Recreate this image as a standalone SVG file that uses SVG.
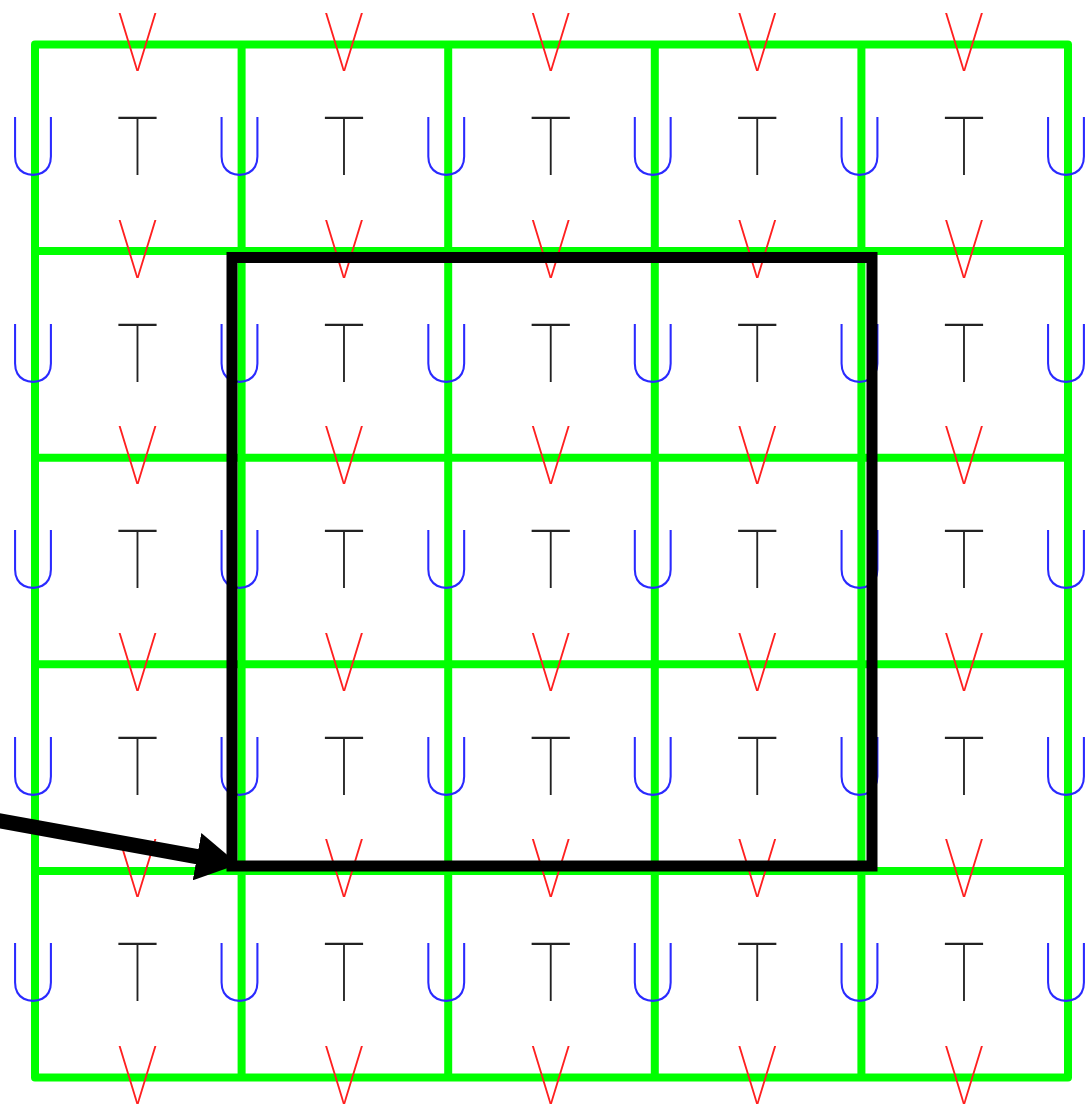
<svg xmlns="http://www.w3.org/2000/svg" width="1085" height="1107" viewBox="0 0 1085 1107">
<style>
text{font-family:"Roboto","Lato","DejaVu Sans",sans-serif;font-weight:100;font-size:82px;text-anchor:middle}
.v{fill:#ff2020}
.t{fill:#222222}
.u{fill:#2a2aff}
.grid{fill:none;stroke:#00ff00;stroke-width:8;stroke-linejoin:round;stroke-linecap:round}
</style>
<defs>
<marker id="ah" markerUnits="userSpaceOnUse" markerWidth="42" markerHeight="48" refX="2" refY="24" orient="auto" viewBox="0 0 42 48">
<path d="M0,0 L42,24 L0,48 Z" fill="#000"/>
</marker>
</defs>
<g id="grid">
<path class="grid" d="M35,44.5H1068V1077.5H35Z M35,251.1H1068 M35,457.7H1068 M35,664.3H1068 M35,870.9H1068 M241.6,44.5V1077.5 M448.2,44.5V1077.5 M654.8,44.5V1077.5 M861.4,44.5V1077.5"/>
</g>
<g id="labels-v" class="v">
<text x="137.5" y="71" textLength="40" lengthAdjust="spacingAndGlyphs">V</text>
<text x="344.1" y="71" textLength="40" lengthAdjust="spacingAndGlyphs">V</text>
<text x="550.7" y="71" textLength="40" lengthAdjust="spacingAndGlyphs">V</text>
<text x="757.3" y="71" textLength="40" lengthAdjust="spacingAndGlyphs">V</text>
<text x="963.9" y="71" textLength="40" lengthAdjust="spacingAndGlyphs">V</text>
<text x="137.5" y="277.6" textLength="40" lengthAdjust="spacingAndGlyphs">V</text>
<text x="344.1" y="277.6" textLength="40" lengthAdjust="spacingAndGlyphs">V</text>
<text x="550.7" y="277.6" textLength="40" lengthAdjust="spacingAndGlyphs">V</text>
<text x="757.3" y="277.6" textLength="40" lengthAdjust="spacingAndGlyphs">V</text>
<text x="963.9" y="277.6" textLength="40" lengthAdjust="spacingAndGlyphs">V</text>
<text x="137.5" y="484.2" textLength="40" lengthAdjust="spacingAndGlyphs">V</text>
<text x="344.1" y="484.2" textLength="40" lengthAdjust="spacingAndGlyphs">V</text>
<text x="550.7" y="484.2" textLength="40" lengthAdjust="spacingAndGlyphs">V</text>
<text x="757.3" y="484.2" textLength="40" lengthAdjust="spacingAndGlyphs">V</text>
<text x="963.9" y="484.2" textLength="40" lengthAdjust="spacingAndGlyphs">V</text>
<text x="137.5" y="690.8" textLength="40" lengthAdjust="spacingAndGlyphs">V</text>
<text x="344.1" y="690.8" textLength="40" lengthAdjust="spacingAndGlyphs">V</text>
<text x="550.7" y="690.8" textLength="40" lengthAdjust="spacingAndGlyphs">V</text>
<text x="757.3" y="690.8" textLength="40" lengthAdjust="spacingAndGlyphs">V</text>
<text x="963.9" y="690.8" textLength="40" lengthAdjust="spacingAndGlyphs">V</text>
<text x="137.5" y="897.4" textLength="40" lengthAdjust="spacingAndGlyphs">V</text>
<text x="344.1" y="897.4" textLength="40" lengthAdjust="spacingAndGlyphs">V</text>
<text x="550.7" y="897.4" textLength="40" lengthAdjust="spacingAndGlyphs">V</text>
<text x="757.3" y="897.4" textLength="40" lengthAdjust="spacingAndGlyphs">V</text>
<text x="963.9" y="897.4" textLength="40" lengthAdjust="spacingAndGlyphs">V</text>
<text x="137.5" y="1104" textLength="40" lengthAdjust="spacingAndGlyphs">V</text>
<text x="344.1" y="1104" textLength="40" lengthAdjust="spacingAndGlyphs">V</text>
<text x="550.7" y="1104" textLength="40" lengthAdjust="spacingAndGlyphs">V</text>
<text x="757.3" y="1104" textLength="40" lengthAdjust="spacingAndGlyphs">V</text>
<text x="963.9" y="1104" textLength="40" lengthAdjust="spacingAndGlyphs">V</text>
</g>
<g id="labels-t" class="t">
<text x="137.5" y="175" textLength="42" lengthAdjust="spacingAndGlyphs">T</text>
<text x="344.1" y="175" textLength="42" lengthAdjust="spacingAndGlyphs">T</text>
<text x="550.7" y="175" textLength="42" lengthAdjust="spacingAndGlyphs">T</text>
<text x="757.3" y="175" textLength="42" lengthAdjust="spacingAndGlyphs">T</text>
<text x="963.9" y="175" textLength="42" lengthAdjust="spacingAndGlyphs">T</text>
<text x="137.5" y="381.6" textLength="42" lengthAdjust="spacingAndGlyphs">T</text>
<text x="344.1" y="381.6" textLength="42" lengthAdjust="spacingAndGlyphs">T</text>
<text x="550.7" y="381.6" textLength="42" lengthAdjust="spacingAndGlyphs">T</text>
<text x="757.3" y="381.6" textLength="42" lengthAdjust="spacingAndGlyphs">T</text>
<text x="963.9" y="381.6" textLength="42" lengthAdjust="spacingAndGlyphs">T</text>
<text x="137.5" y="588.2" textLength="42" lengthAdjust="spacingAndGlyphs">T</text>
<text x="344.1" y="588.2" textLength="42" lengthAdjust="spacingAndGlyphs">T</text>
<text x="550.7" y="588.2" textLength="42" lengthAdjust="spacingAndGlyphs">T</text>
<text x="757.3" y="588.2" textLength="42" lengthAdjust="spacingAndGlyphs">T</text>
<text x="963.9" y="588.2" textLength="42" lengthAdjust="spacingAndGlyphs">T</text>
<text x="137.5" y="794.8" textLength="42" lengthAdjust="spacingAndGlyphs">T</text>
<text x="344.1" y="794.8" textLength="42" lengthAdjust="spacingAndGlyphs">T</text>
<text x="550.7" y="794.8" textLength="42" lengthAdjust="spacingAndGlyphs">T</text>
<text x="757.3" y="794.8" textLength="42" lengthAdjust="spacingAndGlyphs">T</text>
<text x="963.9" y="794.8" textLength="42" lengthAdjust="spacingAndGlyphs">T</text>
<text x="137.5" y="1001.4" textLength="42" lengthAdjust="spacingAndGlyphs">T</text>
<text x="344.1" y="1001.4" textLength="42" lengthAdjust="spacingAndGlyphs">T</text>
<text x="550.7" y="1001.4" textLength="42" lengthAdjust="spacingAndGlyphs">T</text>
<text x="757.3" y="1001.4" textLength="42" lengthAdjust="spacingAndGlyphs">T</text>
<text x="963.9" y="1001.4" textLength="42" lengthAdjust="spacingAndGlyphs">T</text>
</g>
<g id="labels-u" class="u">
<text x="33" y="175" textLength="52" lengthAdjust="spacingAndGlyphs">U</text>
<text x="239.6" y="175" textLength="52" lengthAdjust="spacingAndGlyphs">U</text>
<text x="446.2" y="175" textLength="52" lengthAdjust="spacingAndGlyphs">U</text>
<text x="652.8" y="175" textLength="52" lengthAdjust="spacingAndGlyphs">U</text>
<text x="859.4" y="175" textLength="52" lengthAdjust="spacingAndGlyphs">U</text>
<text x="1066" y="175" textLength="52" lengthAdjust="spacingAndGlyphs">U</text>
<text x="33" y="381.6" textLength="52" lengthAdjust="spacingAndGlyphs">U</text>
<text x="239.6" y="381.6" textLength="52" lengthAdjust="spacingAndGlyphs">U</text>
<text x="446.2" y="381.6" textLength="52" lengthAdjust="spacingAndGlyphs">U</text>
<text x="652.8" y="381.6" textLength="52" lengthAdjust="spacingAndGlyphs">U</text>
<text x="859.4" y="381.6" textLength="52" lengthAdjust="spacingAndGlyphs">U</text>
<text x="1066" y="381.6" textLength="52" lengthAdjust="spacingAndGlyphs">U</text>
<text x="33" y="588.2" textLength="52" lengthAdjust="spacingAndGlyphs">U</text>
<text x="239.6" y="588.2" textLength="52" lengthAdjust="spacingAndGlyphs">U</text>
<text x="446.2" y="588.2" textLength="52" lengthAdjust="spacingAndGlyphs">U</text>
<text x="652.8" y="588.2" textLength="52" lengthAdjust="spacingAndGlyphs">U</text>
<text x="859.4" y="588.2" textLength="52" lengthAdjust="spacingAndGlyphs">U</text>
<text x="1066" y="588.2" textLength="52" lengthAdjust="spacingAndGlyphs">U</text>
<text x="33" y="794.8" textLength="52" lengthAdjust="spacingAndGlyphs">U</text>
<text x="239.6" y="794.8" textLength="52" lengthAdjust="spacingAndGlyphs">U</text>
<text x="446.2" y="794.8" textLength="52" lengthAdjust="spacingAndGlyphs">U</text>
<text x="652.8" y="794.8" textLength="52" lengthAdjust="spacingAndGlyphs">U</text>
<text x="859.4" y="794.8" textLength="52" lengthAdjust="spacingAndGlyphs">U</text>
<text x="1066" y="794.8" textLength="52" lengthAdjust="spacingAndGlyphs">U</text>
<text x="33" y="1001.4" textLength="52" lengthAdjust="spacingAndGlyphs">U</text>
<text x="239.6" y="1001.4" textLength="52" lengthAdjust="spacingAndGlyphs">U</text>
<text x="446.2" y="1001.4" textLength="52" lengthAdjust="spacingAndGlyphs">U</text>
<text x="652.8" y="1001.4" textLength="52" lengthAdjust="spacingAndGlyphs">U</text>
<text x="859.4" y="1001.4" textLength="52" lengthAdjust="spacingAndGlyphs">U</text>
<text x="1066" y="1001.4" textLength="52" lengthAdjust="spacingAndGlyphs">U</text>
</g>
<g id="frame">
<rect x="232" y="257.5" width="640" height="608.5" fill="none" stroke="#000" stroke-width="11"/>
</g>
<g id="connectors">
<line x1="-5" y1="820" x2="199" y2="857" stroke="#000" stroke-width="15" marker-end="url(#ah)"/>
</g>
</svg>
